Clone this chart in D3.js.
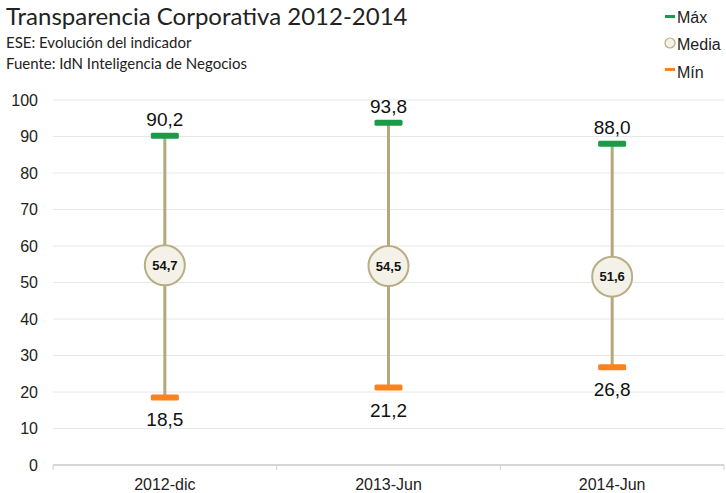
<!DOCTYPE html>
<html><head><meta charset="utf-8">
<script src="https://cdn.jsdelivr.net/npm/d3@7"></script>
<style>body{margin:0;background:#fff}svg{display:block}</style>
</head><body><div id="c"></div>
<script>
const categories = ["2012-dic", "2013-Jun", "2014-Jun"];
const maxValues = [90.2, 93.8, 88.0];
const meanValues = [54.7, 54.5, 51.6];
const minValues = [18.5, 21.2, 26.8];
const yTicks = [0,10,20,30,40,50,60,70,80,90,100];

const W = 726, H = 493;
const svg = d3.select("#c").append("svg").attr("width", W).attr("height", H);
const fmt = v => v.toFixed(1).replace(".", ",");

const x = d3.scaleBand().domain(categories).range([53, 724]);
const y = d3.scaleLinear().domain([0, 100]).range([465, 100]);

// grid
svg.append("g").selectAll("line").data(yTicks.filter(t => t > 0)).join("line")
  .attr("x1", 53).attr("x2", 724).attr("y1", d => y(d)).attr("y2", d => y(d))
  .attr("stroke", "#e8e8e8").attr("stroke-width", 1);

// y labels
svg.append("g").selectAll("text").data(yTicks).join("text")
  .attr("x", 38).attr("y", d => y(d)).attr("dy", "0.35em").attr("text-anchor", "end")
  .attr("font-family", "Liberation Sans, Arial, sans-serif").attr("font-size", 16).attr("fill", "#222")
  .text(d => d);

// x axis
const xa = svg.append("g");
xa.append("line").attr("x1", 53).attr("x2", 724).attr("y1", y(0)).attr("y2", y(0))
  .attr("stroke", "#c8c8c8").attr("stroke-width", 1.5);
const bounds = [53].concat(categories.map(c => x(c) + x.bandwidth()));
xa.selectAll("line.t").data(bounds).join("line").attr("class", "t")
  .attr("x1", d => d).attr("x2", d => d).attr("y1", y(0)).attr("y2", y(0) + 5)
  .attr("stroke", "#d0d0d0");
xa.selectAll("text").data(categories).join("text")
  .attr("x", d => x(d) + x.bandwidth() / 2).attr("y", 490)
  .attr("text-anchor", "middle").attr("font-family", "Liberation Sans, Arial, sans-serif")
  .attr("font-size", 16).attr("fill", "#222").text(d => d);

const cx = i => x(categories[i]) + x.bandwidth() / 2;
const idx = categories.map((c, i) => i);

// stems
svg.append("g").selectAll("line").data(idx).join("line")
  .attr("x1", cx).attr("x2", cx).attr("y1", i => y(maxValues[i])).attr("y2", i => y(minValues[i]))
  .attr("stroke", "#b5a97c").attr("stroke-width", 3);

// max markers
svg.append("g").selectAll("rect").data(idx).join("rect")
  .attr("x", i => cx(i) - 14).attr("y", i => y(maxValues[i]) - 3).attr("width", 28).attr("height", 6)
  .attr("rx", 1.5).attr("fill", "#1c9a48");
// min markers
svg.append("g").selectAll("rect").data(idx).join("rect")
  .attr("x", i => cx(i) - 14).attr("y", i => y(minValues[i]) - 3).attr("width", 28).attr("height", 6)
  .attr("rx", 1.5).attr("fill", "#f7821f");

// labels
svg.append("g").selectAll("text").data(idx).join("text")
  .attr("x", cx).attr("y", i => y(maxValues[i]) - 10).attr("text-anchor", "middle")
  .attr("font-family", "Liberation Sans, Arial, sans-serif").attr("font-size", 19).attr("fill", "#111")
  .text(i => fmt(maxValues[i]));
svg.append("g").selectAll("text").data(idx).join("text")
  .attr("x", cx).attr("y", i => y(minValues[i]) + 29).attr("text-anchor", "middle")
  .attr("font-family", "Liberation Sans, Arial, sans-serif").attr("font-size", 19).attr("fill", "#111")
  .text(i => fmt(minValues[i]));

// mean circles
const mg = svg.append("g").selectAll("g").data(idx).join("g")
  .attr("transform", i => `translate(${cx(i)},${y(meanValues[i])})`);
mg.append("circle").attr("r", 20).attr("fill", "#f4f1e8").attr("stroke", "#b8ad84").attr("stroke-width", 2);
mg.append("text").attr("text-anchor", "middle").attr("dy", "0.36em")
  .attr("font-family", "Liberation Sans, Arial, sans-serif").attr("font-size", 13).attr("font-weight", "bold")
  .attr("fill", "#111").text(i => fmt(meanValues[i]));

// title
svg.append("text").attr("x", 6).attr("y", 25).attr("font-family", "Lato, 'Open Sans', sans-serif")
  .attr("font-size", 24).attr("fill", "#222").text("Transparencia Corporativa 2012-2014");
svg.append("text").attr("x", 6).attr("y", 48).attr("font-family", "Lato, 'Open Sans', sans-serif")
  .attr("font-size", 15).attr("fill", "#222").text("ESE: Evolución del indicador");
svg.append("text").attr("x", 6).attr("y", 69).attr("font-family", "Lato, 'Open Sans', sans-serif")
  .attr("font-size", 15).attr("fill", "#222").text("Fuente: IdN Inteligencia de Negocios");

// legend
const lg = svg.append("g").attr("font-family", "Liberation Sans, Arial, sans-serif").attr("font-size", 16).attr("fill", "#222");
lg.append("rect").attr("x", 665).attr("y", 15).attr("width", 10).attr("height", 3).attr("fill", "#1c9a48");
lg.append("text").attr("x", 677).attr("y", 23).text("Máx");
lg.append("circle").attr("cx", 670).attr("cy", 43).attr("r", 5).attr("fill", "#f4f1e8").attr("stroke", "#b8ad84").attr("stroke-width", 1.2);
lg.append("text").attr("x", 677).attr("y", 50).text("Media");
lg.append("rect").attr("x", 665).attr("y", 68).attr("width", 10).attr("height", 3).attr("fill", "#f7821f");
lg.append("text").attr("x", 677).attr("y", 78).text("Mín");
</script></body></html>
